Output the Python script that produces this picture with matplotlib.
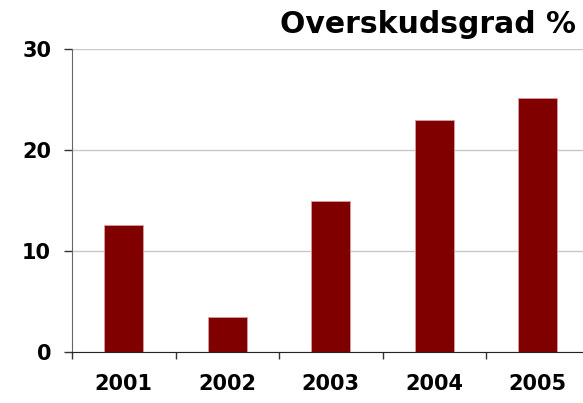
import matplotlib
matplotlib.use("Agg")
import matplotlib.pyplot as plt
import numpy as np

years = ["2001", "2002", "2003", "2004", "2005"]
margin = [12.6, 3.5, 15.0, 23.0, 25.1]
y_ticks = [0, 10, 20, 30]

BAR = "#800000"
FONT = "DejaVu Sans"

fig = plt.figure(figsize=(5.83, 4.03), dpi=100)
ax = fig.add_axes([72 / 583, 51 / 403, 517.5 / 583, 303 / 403])

x = np.arange(len(years))
ax.bar(x, margin, width=0.38, color=BAR, edgecolor="#d9a0a0", linewidth=0.6, zorder=3)

ax.set_xlim(-0.5, len(years) - 0.5)
ax.set_ylim(0, 30)
ax.set_yticks(y_ticks)
ax.set_yticklabels([str(v) for v in y_ticks], fontsize=15, fontweight="bold", family=FONT)
ax.set_xticks(x)
ax.set_xticklabels(years, fontsize=15, fontweight="bold", family=FONT)
ax.set_xticks(np.arange(len(years) + 1) - 0.5, minor=True)
ax.tick_params(axis="x", which="major", length=0, pad=16)
ax.tick_params(axis="x", which="minor", length=5, width=1, color="#333333")
ax.tick_params(axis="y", length=6, width=1, pad=9, color="#333333")

ax.grid(axis="y", color="#c8c8c8", linewidth=1, zorder=0)
for s in ("top", "right"):
    ax.spines[s].set_visible(False)
ax.spines["left"].set_color("#666666")
ax.spines["bottom"].set_color("#222222")
ax.spines["bottom"].set_zorder(4)

fig.text(576 / 583, 1 - 33 / 403, "Overskudsgrad %", ha="right", va="baseline",
         fontsize=21.5, fontweight="bold", family=FONT)

fig.savefig("out.png", dpi=100)
